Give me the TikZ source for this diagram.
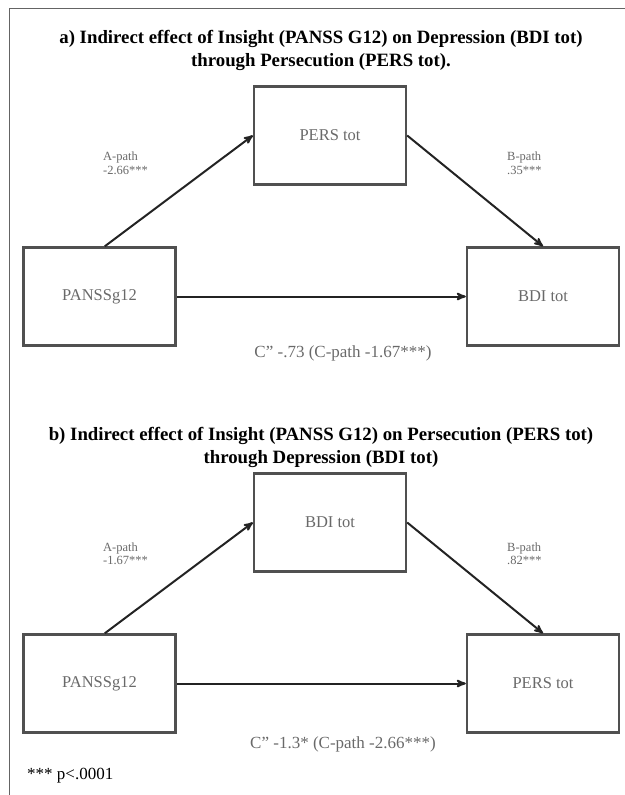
\documentclass[tikz,border=0pt]{standalone}
\usepackage{fontspec}
\setmainfont{Liberation Serif}
\usepackage{tikz}
\usetikzlibrary{arrows,positioning}
\definecolor{boxgray}{RGB}{80,80,80}
\definecolor{txtgray}{RGB}{105,105,105}
\definecolor{arrowgray}{RGB}{35,35,35}
\definecolor{framegray}{RGB}{100,100,100}

\begin{document}
\begin{tikzpicture}[->, >=stealth', x=1bp, y=-1bp]
\tikzstyle{every node}=[inner sep=0pt]
\tikzstyle{var}=[draw=boxgray, line width=2.4bp, minimum width=152bp, minimum height=98bp, text=txtgray, font=\fontsize{16.5bp}{19bp}\selectfont]
\tikzstyle{coef}=[text=txtgray, align=left, anchor=west, font=\fontsize{12.5bp}{13.5bp}\selectfont]
\tikzstyle{direct}=[text=txtgray, font=\fontsize{17bp}{19bp}\selectfont]
\tikzstyle{ttl}=[align=center, font=\bfseries\fontsize{18.8bp}{23bp}\selectfont]
\tikzstyle{link}=[draw=arrowgray, line width=2bp]
\useasboundingbox (0,0) rectangle (625,795);
\draw[-, framegray, line width=1bp] (9,795) -- (9,9) -- (625,9);

% a) Insight -> Persecution -> Depression
\node[ttl]    (ta) at (321,50) {a) Indirect effect of Insight (PANSS G12) on Depression (BDI tot)\\through Persecution (PERS tot).};
\node[var]    (a2) at (330,135.5) {PERS tot};
\node[var]    (a1) at (99.5,296.5) {PANSSg12};
\node[var]    (a3) at (543,296.5) {BDI tot};
\node[coef]   (la) at (103,163.5) {A-path\\-2.66***};
\node[coef]   (lb) at (507,163.5) {B-path\\.35***};
\node[direct] (lc) at (343,353) {C'' -.73 (C-path -1.67***)};
\path
(a1.84)    edge[link] (a2.west)
(a2.east)  edge[link] (a3.north)
(a1.east)  edge[link] (a3.west)
;

% b) Insight -> Depression -> Persecution
\node[ttl]    (tb) at (321,447) {b) Indirect effect of Insight (PANSS G12) on Persecution (PERS tot)\\through Depression (BDI tot)};
\node[var]    (b2) at (330,522.5) {BDI tot};
\node[var]    (b1) at (99.5,683.5) {PANSSg12};
\node[var]    (b3) at (543,683.5) {PERS tot};
\node[coef]   (ma) at (103,553.5) {A-path\\-1.67***};
\node[coef]   (mb) at (507,553.5) {B-path\\.82***};
\node[direct] (mc) at (343,744) {C'' -1.3* (C-path -2.66***)};
\path
(b1.84)    edge[link] (b2.west)
(b2.east)  edge[link] (b3.north)
(b1.east)  edge[link] (b3.west)
;

\node[anchor=west, font=\fontsize{17bp}{20bp}\selectfont] (fn) at (27,776) {*** p<.0001};
\end{tikzpicture}
\end{document}
